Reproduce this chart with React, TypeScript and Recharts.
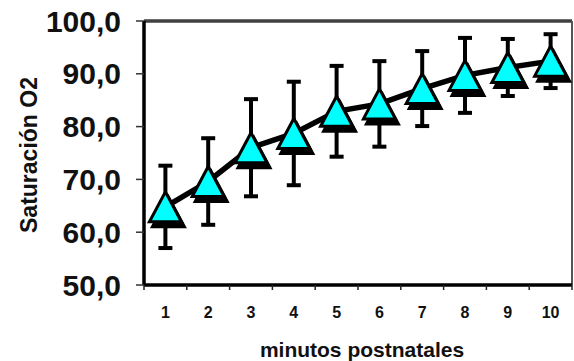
import React from "react";
import { ErrorBar, Line, LineChart, ReferenceLine, XAxis, YAxis } from "recharts";

const minutes = ["1", "2", "3", "4", "5", "6", "7", "8", "9", "10"];
const meanSaturation = [64.8, 69.6, 76.0, 78.7, 82.9, 84.3, 87.2, 89.7, 91.2, 92.4];
const sdSaturation = [7.8, 8.2, 9.2, 9.8, 8.6, 8.1, 7.1, 7.1, 5.4, 5.1];
const yTicks = [50, 60, 70, 80, 90, 100];

const data = minutes.map((minute, i) => ({
  minute,
  saturacion: meanSaturation[i],
  sd: sdSaturation[i],
}));

const CHART_W = 574;
const CHART_H = 361;
const Y_AXIS_W = 144;
const X_AXIS_H = 76;
const MARGIN = { top: 21, right: 2, bottom: 0, left: 0 };
const HALF_BAND = (CHART_W - Y_AXIS_W - MARGIN.right) / minutes.length / 2;
const FONT = "'Liberation Sans', Arial, sans-serif";

const formatTick = (v: number) => v.toFixed(1).replace(".", ",");

// triangle marker with a black drop shadow, like the original
const TriangleDot = (props: any) => {
  const { cx, cy } = props;
  if (cx == null || cy == null) return null;
  const tri = (dx: number, dy: number) =>
    `M${cx + dx},${cy - 15 + dy} L${cx + 16 + dx},${cy + 15 + dy} L${cx - 16 + dx},${cy + 15 + dy} Z`;
  return (
    <g>
      <path d={tri(3, 5)} fill="#000" stroke="#000" strokeWidth={3} />
      <path d={tri(0, 0)} fill="#00FFFF" stroke="#000" strokeWidth={3} />
    </g>
  );
};

const MinuteTick = (props: any) => {
  const { x, y, payload, index } = props;
  const isLast = index === minutes.length - 1;
  return (
    <g>
      <line x1={x - HALF_BAND} x2={x - HALF_BAND} y1={y} y2={y + 5} stroke="#222" strokeWidth={1.5} />
      {isLast && (
        <line x1={x + HALF_BAND} x2={x + HALF_BAND} y1={y} y2={y + 5} stroke="#222" strokeWidth={1.5} />
      )}
      <text x={x} y={y + 33} textAnchor="middle" fontFamily={FONT} fontWeight="bold" fontSize={16} fill="#111">
        {payload.value}
      </text>
    </g>
  );
};

const XTitle = (props: any) => {
  const vb = props.viewBox || {};
  return (
    <text
      x={vb.x + vb.width / 2 + 4}
      y={vb.y + vb.height - 4}
      textAnchor="middle"
      fontFamily={FONT}
      fontWeight="bold"
      fontSize={21}
      fill="#111"
    >
      minutos postnatales
    </text>
  );
};

const YTitle = (props: any) => {
  const vb = props.viewBox || {};
  const cx = vb.x + 29;
  const cy = vb.y + vb.height / 2 + 2;
  return (
    <text
      x={cx}
      y={cy}
      transform={`rotate(-90 ${cx} ${cy})`}
      textAnchor="middle"
      dominantBaseline="central"
      fontFamily={FONT}
      fontWeight="bold"
      fontSize={23}
      fill="#111"
    >
      Saturación O2
    </text>
  );
};

const App = () => {
  return (
    <div style={{ position: "absolute", left: 0, top: 0, background: "#fff" }}>
      <LineChart width={CHART_W} height={CHART_H} data={data} margin={MARGIN} style={{ fontFamily: FONT }}>
        <XAxis
          dataKey="minute"
          scale="band"
          height={X_AXIS_H}
          axisLine={{ stroke: "#000", strokeWidth: 3.5 }}
          tickLine={false}
          tickSize={0}
          tickMargin={0}
          interval={0}
          tick={<MinuteTick />}
          label={<XTitle />}
        />
        <YAxis
          domain={[50, 100]}
          ticks={yTicks}
          width={Y_AXIS_W}
          axisLine={{ stroke: "#000", strokeWidth: 3.5 }}
          tickLine={{ stroke: "#333", strokeWidth: 1.5 }}
          tickSize={8}
          tickMargin={15}
          tickFormatter={formatTick}
          tick={{ fontSize: 30, fontWeight: "bold", fill: "#111", fontFamily: FONT }}
          label={<YTitle />}
        />
        <ReferenceLine y={100} stroke="#404040" strokeWidth={3.5} />
        <ReferenceLine x="10" position="end" stroke="#555" strokeWidth={2} />
        {/* line + error bars first so the triangles sit on top */}
        <Line
          type="linear"
          dataKey="saturacion"
          stroke="#000"
          strokeWidth={5.5}
          dot={false}
          activeDot={false}
          isAnimationActive={false}
        >
          <ErrorBar dataKey="sd" width={7} stroke="#000" strokeWidth={4} isAnimationActive={false} />
        </Line>
        <Line
          type="linear"
          dataKey="saturacion"
          stroke="none"
          dot={<TriangleDot />}
          activeDot={false}
          isAnimationActive={false}
        />
      </LineChart>
    </div>
  );
};

export default App;
